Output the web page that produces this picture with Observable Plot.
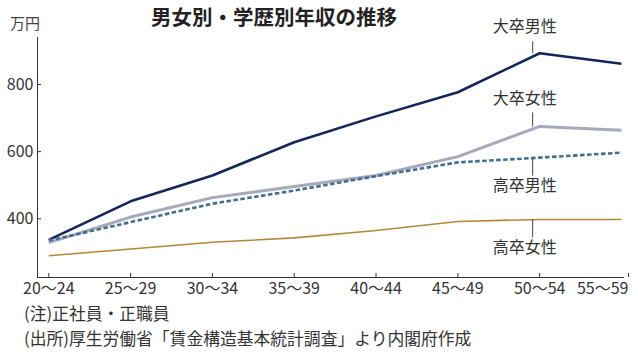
<!DOCTYPE html>
<html><head><meta charset="utf-8">
<script src="https://cdn.jsdelivr.net/npm/d3@7"></script>
<script src="https://cdn.jsdelivr.net/npm/@observablehq/plot@0.6"></script>
<style>
body{margin:0;background:#fff;}
#wrap{position:relative;width:638px;height:357px;overflow:hidden;font-family:"Noto Sans CJK JP",sans-serif;color:#333;}
#wrap svg{position:absolute;left:0;top:0;}
.t{position:absolute;white-space:nowrap;line-height:1;}
</style></head><body>
<div id="wrap"></div>
<script>
const ageLabels = ["20〜24","25〜29","30〜34","35〜39","40〜44","45〜49","50〜54","55〜59"];
const seriesNames = ["大卒男性","大卒女性","高卒男性","高卒女性"];
const daiMale   = [337, 452, 529, 628, 705, 777, 893, 862];
const daiFemale = [329, 405, 463, 496, 529, 585, 675, 664];
const kouMale   = [335, 390, 445, 484, 527, 568, 582, 597];
const kouFemale = [290, 310, 330, 343, 365, 392, 398, 398];
const yTicks = [400, 600, 800];
const titleText = "男女別・学歴別年収の推移";
const unitText = "万円";
const noteLines = ["(注)正社員・正職員", "(出所)厚生労働省「賃金構造基本統計調査」より内閣府作成"];

const seriesValues = [daiMale, daiFemale, kouMale, kouFemale];
const colors = ["#14265a", "#a8a8bb", "#3f6f8f", "#b3873a"];
const widths = [2.6, 3, 2.6, 1.6];
const dashes = [null, null, "4.5,2.5", null];

const W = 638, H = 357;
const mTop = 37, mBottom = 80, mLeft = 37, mRight = 14;
const yDom = [225, 940];
const xDom = [-0.138, 7.037];
const pxPerUnit = (H - mTop - mBottom) / (yDom[1] - yDom[0]);
const u = px => px / pxPerUnit;

const lineMarks = seriesValues.map((vals, s) =>
  Plot.line(vals.map((v, i) => ({i, v})), {
    x: "i", y: "v", stroke: colors[s], strokeWidth: widths[s],
    strokeDasharray: dashes[s], strokeLinejoin: "round", strokeLinecap: "butt"
  })
);

// label annotations at the 50〜54 point
const labelIdx = 6;
const lab = [
  {name: seriesNames[0], v: daiMale[labelIdx], dir: 1, lead: 12, gap: 26},
  {name: seriesNames[1], v: daiFemale[labelIdx], dir: 1, lead: 14, gap: 28},
  {name: seriesNames[2], v: kouMale[labelIdx], dir: -1, lead: 18, gap: 28},
  {name: seriesNames[3], v: kouFemale[labelIdx], dir: -1, lead: 18, gap: 28}
].map(d => ({...d, i: labelIdx, y2: d.v + d.dir * u(d.lead), yt: d.v + d.dir * u(d.gap)}));

const chart = Plot.plot({
  width: W, height: H,
  marginTop: mTop, marginBottom: mBottom, marginLeft: mLeft, marginRight: mRight,
  style: {fontFamily: "'Noto Sans CJK JP', sans-serif", color: "#333", background: "transparent"},
  x: {type: "linear", domain: xDom},
  y: {domain: yDom},
  marks: [
    Plot.ruleX([xDom[0]], {stroke: "#333", strokeWidth: 1}),
    Plot.ruleY([yDom[0]], {stroke: "#333", strokeWidth: 1}),
    Plot.axisY({ticks: yTicks, tickSize: -4, tickPadding: 8, fontSize: 16,
      fontStretch: "condensed", label: null, stroke: "#333"}),
    Plot.axisX({ticks: d3.range(0, 7), tickSize: -4, tickPadding: 9, fontSize: 16,
      tickFormat: i => ageLabels[i], label: null}),
    Plot.axisX({ticks: [7], tickSize: -4, tickPadding: 9, fontSize: 16,
      tickFormat: i => ageLabels[i], label: null, textAnchor: "end", dx: 7}),
    ...lineMarks,
    Plot.link(lab, {x1: "i", x2: "i", y1: "v", y2: "y2", dx: -7, stroke: "#444", strokeWidth: 1}),
    Plot.text(lab, {x: "i", y: "yt", text: "name", dx: -15, fontSize: 16, fill: "#333"})
  ]
});
const wrap = document.getElementById("wrap");
wrap.appendChild(chart);

function addText(txt, css) {
  const d = document.createElement("div");
  d.className = "t"; d.textContent = txt; d.style.cssText += css;
  wrap.appendChild(d);
}
addText(titleText, "left:151px;top:6px;font-size:20.5px;font-weight:bold;color:#222;");
addText(unitText, "left:10px;top:15px;font-size:15px;color:#444;");
addText(noteLines[0], "left:24px;top:305px;font-size:16.8px;color:#333;");
addText(noteLines[1], "left:24px;top:330px;font-size:16.8px;color:#333;");
</script>
</body></html>
